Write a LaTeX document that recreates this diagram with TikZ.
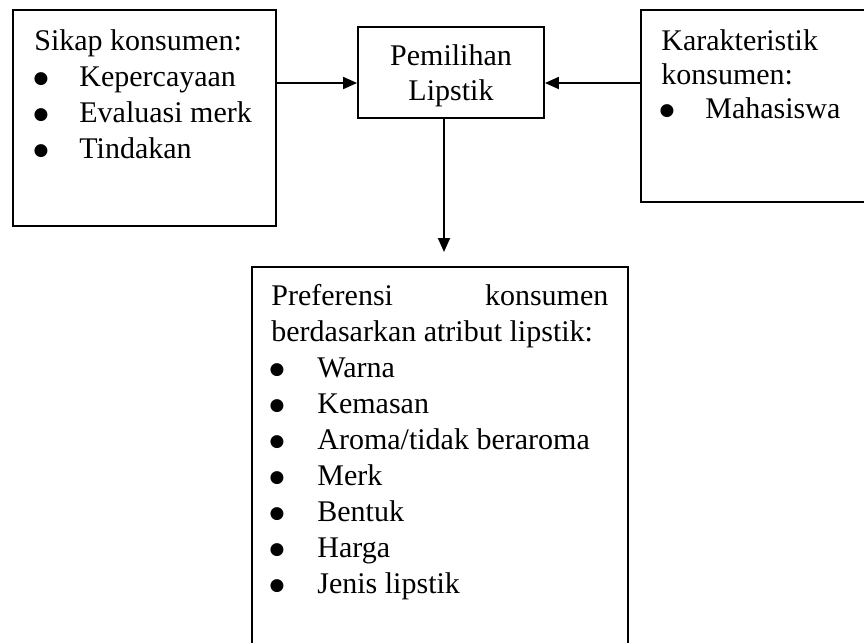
\documentclass[tikz,border=0pt]{standalone}
\usepackage{fontspec}
\setmainfont{Liberation Serif}
\newfontfamily\bulletfont{DejaVu Sans}
\usetikzlibrary{arrows.meta}

\begin{document}
\begin{tikzpicture}[
  x=0.5pt,
  y=-0.5pt,
  >={Triangle[length=7pt,width=6pt]},
  every node/.style={inner sep=0pt},
  box/.style={draw,rectangle,line width=0.9pt},
  txt/.style={anchor=base west,font=\fontsize{15}{18}\selectfont},
  ctxt/.style={anchor=base,font=\fontsize{15}{18}\selectfont},
  bul/.style={anchor=base,font=\bulletfont\fontsize{8.5}{10}\selectfont,yshift=1.2pt},
  edge/.style={->,line width=0.9pt}
]
\clip (0,0) rectangle (864,643);

% Boxes
\node[box,minimum width=131.5pt,minimum height=108pt] (sikap) at (144.5,118) {};
\node[box,minimum width=93pt,minimum height=45.5pt] (pilih) at (451,72.5) {};
\node[box,minimum width=122pt,minimum height=96pt] (karakter) at (763,106) {};
\node[box,minimum width=188pt,minimum height=206.5pt] (pref) at (440,473.5) {};

% Arrows
\coordinate (tipdown) at (444,252);
\draw[edge] (sikap.east |- 0,83) -- (pilih.west |- 0,83);
\draw[edge] (karakter.west |- 0,83) -- (pilih.east |- 0,83);
\draw[edge] (pilih.south -| tipdown) -- (tipdown);

% Sikap konsumen
\node[txt] (sikap-t) at (34,50) {Sikap konsumen:};
\node[bul] (sikap-b1) at (41,86) {●};
\node[txt] (sikap-1) at (79,86) {Kepercayaan};
\node[bul] (sikap-b2) at (41,122) {●};
\node[txt] (sikap-2) at (79,122) {Evaluasi merk};
\node[bul] (sikap-b3) at (41,158) {●};
\node[txt] (sikap-3) at (79,158) {Tindakan};

% Pemilihan lipstik
\node[ctxt] (pilih-1) at (451,65) {Pemilihan};
\node[ctxt] (pilih-2) at (451,100) {Lipstik};

% Karakteristik konsumen
\node[txt] (karakter-t1) at (661,50) {Karakteristik};
\node[txt] (karakter-t2) at (661,84) {konsumen:};
\node[bul] (karakter-b1) at (667,118) {●};
\node[txt] (karakter-1) at (705,118) {Mahasiswa};

% Preferensi konsumen
\node[txt] (pref-t1) at (271,305) {\makebox[168.5pt]{Preferensi\hfill konsumen}};
\node[txt] (pref-t2) at (271,341) {berdasarkan atribut lipstik:};
\node[bul] (pref-b1) at (277,377) {●};
\node[txt] (pref-1) at (317,377) {Warna};
\node[bul] (pref-b2) at (277,413) {●};
\node[txt] (pref-2) at (317,413) {Kemasan};
\node[bul] (pref-b3) at (277,449) {●};
\node[txt] (pref-3) at (317,449) {Aroma/tidak beraroma};
\node[bul] (pref-b4) at (277,485) {●};
\node[txt] (pref-4) at (317,485) {Merk};
\node[bul] (pref-b5) at (277,521) {●};
\node[txt] (pref-5) at (317,521) {Bentuk};
\node[bul] (pref-b6) at (277,557) {●};
\node[txt] (pref-6) at (317,557) {Harga};
\node[bul] (pref-b7) at (277,593) {●};
\node[txt] (pref-7) at (317,593) {Jenis lipstik};
\end{tikzpicture}
\end{document}
